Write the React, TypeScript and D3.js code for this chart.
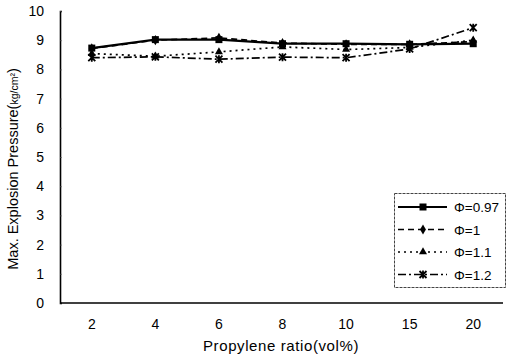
import React, { useRef, useEffect } from 'react';
import * as d3 from 'd3';

const categories = ['2', '4', '6', '8', '10', '15', '20'];
const yTicks = [0, 1, 2, 3, 4, 5, 6, 7, 8, 9, 10];

const phi097 = [8.73, 9.02, 9.02, 8.88, 8.88, 8.86, 8.88];
const phi1 = [8.72, 9.0, 9.08, 8.9, 8.86, 8.86, 8.95];
const phi11 = [8.54, 8.45, 8.6, 8.77, 8.68, 8.75, 9.0];
const phi12 = [8.4, 8.43, 8.35, 8.42, 8.4, 8.7, 9.43];

const seriesNames = ['Φ=0.97', 'Φ=1', 'Φ=1.1', 'Φ=1.2'];

export default function App() {
  const svgRef = useRef<SVGSVGElement>(null);

  useEffect(() => {
    const svg = d3.select(svgRef.current);
    svg.selectAll('*').remove();

    const width = 507;
    const height = 362;
    const margin = { top: 11, right: 2, bottom: 59, left: 60 };
    const innerHeight = height - margin.top - margin.bottom;

    const x = d3.scaleBand().domain(categories).range([margin.left, width - margin.right]);
    const y = d3.scaleLinear().domain([0, 10]).range([margin.top + innerHeight, margin.top]);

    const font = 'Liberation Sans, Arial, sans-serif';

    const series = [
      { name: seriesNames[0], values: phi097, dash: null, marker: 'square' },
      { name: seriesNames[1], values: phi1, dash: '6,4', marker: 'diamond' },
      { name: seriesNames[2], values: phi11, dash: '2,4', marker: 'triangle' },
      { name: seriesNames[3], values: phi12, dash: '8,3,2,3', marker: 'cross' },
    ];

    const cx = (c: string) => (x(c) as number) + x.bandwidth() / 2;

    const drawMarker = (g: any, type: string, px: number, py: number) => {
      if (type === 'square') {
        g.append('rect').attr('x', px - 3.5).attr('y', py - 3.5).attr('width', 7).attr('height', 7).attr('fill', '#000');
      } else if (type === 'diamond') {
        g.append('path').attr('d', d3.symbol(d3.symbolDiamond, 30)()).attr('transform', `translate(${px},${py})`).attr('fill', '#000');
      } else if (type === 'triangle') {
        g.append('path').attr('d', d3.symbol(d3.symbolTriangle, 28)()).attr('transform', `translate(${px},${py})`).attr('fill', '#000');
      } else {
        g.append('path')
          .attr('d', `M${px - 3.5},${py - 3.5}L${px + 3.5},${py + 3.5}M${px + 3.5},${py - 3.5}L${px - 3.5},${py + 3.5}M${px},${py - 4}L${px},${py + 4}`)
          .attr('stroke', '#000')
          .attr('stroke-width', 1.8);
      }
    };

    // axes
    const yAxis = svg.append('g').attr('transform', `translate(${margin.left},0)`)
      .call(d3.axisLeft(y).tickValues(yTicks).tickSize(-2).tickPadding(16).tickFormat(d3.format('d')));
    yAxis.select('.domain').attr('stroke-width', 1.6);
    yAxis.selectAll('.tick line').attr('stroke', '#555').attr('stroke-width', 0.6);
    yAxis.selectAll('text').attr('font-family', font).attr('font-size', 14).attr('fill', '#000');

    const xAxis = svg.append('g').attr('transform', `translate(0,${y(0)})`)
      .call(d3.axisBottom(x).tickSize(0).tickPadding(16));
    xAxis.select('.domain').attr('stroke-width', 1.6).attr('d', `M${margin.left},0H${width - 4}`);
    xAxis.selectAll('text').attr('font-family', font).attr('font-size', 14).attr('fill', '#000');

    // lines
    const line = d3.line<number>().x((_, i) => cx(categories[i])).y((d) => y(d));
    const plot = svg.append('g');
    series.slice().reverse().forEach((s) => {
      plot.append('path')
        .attr('d', line(s.values))
        .attr('fill', 'none')
        .attr('stroke', '#000')
        .attr('stroke-width', s.dash ? 1.7 : 2.2)
        .attr('stroke-dasharray', s.dash);
      s.values.forEach((v, i) => drawMarker(plot, s.marker, cx(categories[i]), y(v)));
    });

    // axis titles
    svg.append('text')
      .attr('x', 281)
      .attr('y', 351)
      .attr('text-anchor', 'middle')
      .attr('font-family', font)
      .attr('font-size', 15)
      .attr('letter-spacing', 0.6)
      .text('Propylene ratio(vol%)');

    const yt = svg.append('text')
      .attr('transform', `translate(18,169) rotate(-90)`)
      .attr('text-anchor', 'middle')
      .attr('font-family', font)
      .attr('font-size', 14.5);
    yt.append('tspan').text('Max. Explosion Pressure(');
    yt.append('tspan').attr('font-size', 10.5).text('kg/cm²');
    yt.append('tspan').text(')');

    // legend
    const lg = svg.append('g');
    lg.append('rect')
      .attr('x', 394.5).attr('y', 193.5).attr('width', 111).attr('height', 94)
      .attr('fill', '#fff').attr('stroke', '#444').attr('stroke-width', 1).attr('stroke-dasharray', '3,1');
    series.forEach((s, i) => {
      const ry = 207 + i * 22.5;
      lg.append('line')
        .attr('x1', 398).attr('x2', 447).attr('y1', ry).attr('y2', ry)
        .attr('stroke', '#000').attr('stroke-width', s.dash ? 1.6 : 2)
        .attr('stroke-dasharray', s.dash);
      drawMarker(lg, s.marker, 423, ry);
      lg.append('text')
        .attr('x', 454).attr('y', ry + 5)
        .attr('font-family', font).attr('font-size', 13.5)
        .text(s.name);
    });
  }, []);

  return (
    <svg ref={svgRef} width={507} height={362} style={{ position: 'absolute', left: 0, top: 0, background: '#fff' }} />
  );
}
